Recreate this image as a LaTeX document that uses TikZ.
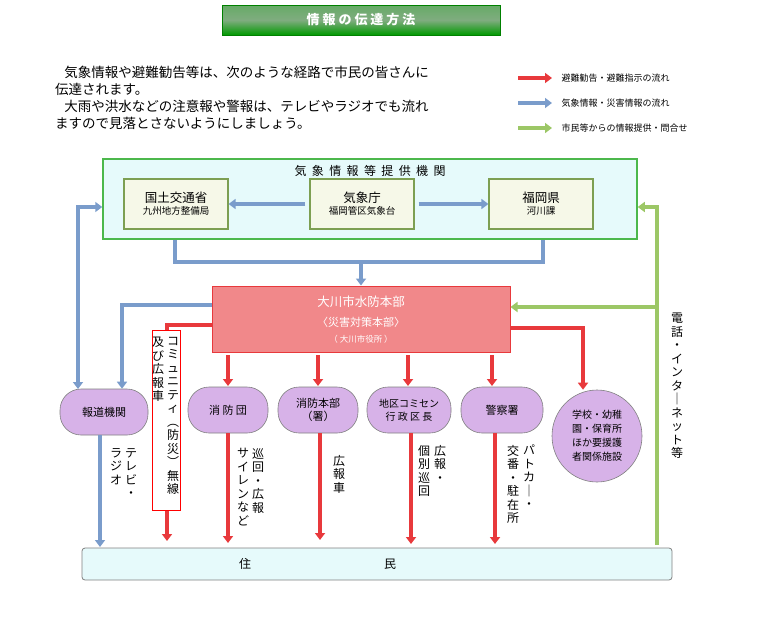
\documentclass[tikz,border=0pt]{standalone}
\usepackage{fontspec}
\setmainfont{Noto Sans CJK JP}
\usetikzlibrary{arrows.meta,shapes.geometric}
\definecolor{ared}{HTML}{E8393C}
\definecolor{ablue}{HTML}{7A9CCB}
\definecolor{agreen}{HTML}{9CC766}
\definecolor{pill}{HTML}{D7B2E8}
\definecolor{cyanbg}{HTML}{E6FAFB}
\definecolor{boxbg}{HTML}{F6F8E8}
\tikzset{
 arr/.style={line width=3.2pt,-{Triangle[length=7pt,width=10pt]}},
 red/.style={arr,draw=ared},
 blue/.style={arr,draw=ablue},
 green/.style={arr,draw=agreen},
 ln/.style={line width=3.2pt},
 inbox/.style={draw=agreen!80!black,line width=1.2pt,fill=boxbg,minimum width=104pt,minimum height=50pt,align=center,inner sep=1pt},
 pilln/.style={draw=gray,line width=0.6pt,fill=pill,rounded corners=21pt,minimum height=46pt,align=center,font=\fontsize{11}{13}\selectfont},
 vt/.style={align=center,font=\fontsize{12}{13.5}\selectfont,inner sep=0pt,anchor=north},
 leg/.style={font=\fontsize{9}{10}\selectfont,anchor=west},
}
\begin{document}
\begin{tikzpicture}[x=1pt,y=-1pt]
\useasboundingbox (0,0) rectangle (759,629);
% title
\node[draw=green!50!black,top color=green!45!black!60,bottom color=green!60!black,middle color=green!35!black!50,minimum width=278pt,minimum height=30pt,text=white,font=\bfseries\fontsize{13}{15}\selectfont] (title) at (361,20) {情\ 報\ の\ 伝\ 達\ 方\ 法};
% paragraph
\node[anchor=north west,align=left,font=\fontsize{13.5}{17}\selectfont,inner sep=0pt] (para) at (55,66) {\ \ \ 気象情報や避難勧告等は、次のような経路で市民の皆さんに\\伝達されます。\\\ \ \ 大雨や洪水などの注意報や警報は、テレビやラジオでも流れ\\ますので見落とさないようにしましょう。};
% legend
\coordinate (l1a) at (518,78); \coordinate (l1b) at (552,78);
\coordinate (l2a) at (518,103); \coordinate (l2b) at (552,103);
\coordinate (l3a) at (518,128); \coordinate (l3b) at (552,128);
\draw[red] (l1a) -- (l1b); \draw[blue] (l2a) -- (l2b); \draw[green] (l3a) -- (l3b);
\node[leg] (t1) at (558,78) {避難勧告・避難指示の流れ};
\node[leg] (t2) at (558,103) {気象情報・災害情報の流れ};
\node[leg] (t3) at (558,128) {市民等からの情報提供・問合せ};
% outer box
\node[draw=green!60!black!70,line width=1.5pt,fill=cyanbg,minimum width=534pt,minimum height=80pt] (outer) at (370,199) {};
\node[font=\fontsize{12}{14}\selectfont] (otitle) at (370,171) {気\ \ 象\ \ 情\ \ 報\ \ 等\ \ 提\ \ 供\ \ 機\ \ 関};
\node[inbox] (kokudo) at (176,204) {{\fontsize{12.5}{15}\selectfont 国土交通省}\\{\fontsize{9.5}{12}\selectfont 九州地方整備局}};
\node[inbox] (kisho) at (362,204) {{\fontsize{12.5}{15}\selectfont 気象庁}\\{\fontsize{9.5}{12}\selectfont 福岡管区気象台}};
\node[inbox] (fuku) at (541,204) {{\fontsize{12.5}{15}\selectfont 福岡県}\\{\fontsize{9.5}{12}\selectfont 河川課}};
\draw[blue] (kisho.west) ++(-4,0) coordinate (ka) -- (kokudo.east|-ka) ;
\draw[blue] (kisho.east) ++(4,0) coordinate (kb) -- (fuku.west|-kb);
% bracket
\coordinate (b1) at (175,240); \coordinate (b2) at (175,262); \coordinate (b3) at (543,262); \coordinate (b4) at (543,240); \coordinate (bm) at (361,262);
\draw[ln,draw=ablue] (b1) -- (b2) -- (b3) -- (b4);
% HQ
\node[draw=ared,line width=1pt,fill=ared!60,minimum width=298pt,minimum height=66pt,align=center,text=white] (hq) at (361,319) {};
\node[text=white,font=\fontsize{12.5}{15}\selectfont] (hq1) at (361,302) {大川市水防本部};
\node[text=white,font=\fontsize{11}{13}\selectfont] (hq2) at (361,322) {〈災害対策本部〉};
\node[text=white,font=\fontsize{8.5}{10}\selectfont] (hq3) at (361,339) {（ 大川市役所 ）};
\draw[blue] (bm) -- (hq.north);
% pills
\node[pilln,minimum width=88pt] (hodo) at (104,412) {報道機関};
\node[pilln,minimum width=80pt] (shobo) at (228,410) {消\ 防\ 団};
\node[pilln,minimum width=80pt] (honbu) at (318,410) {消防本部\\（署）};
\node[pilln,minimum width=84pt,font=\fontsize{10}{13}\selectfont] (chiku) at (409,410) {地区コミセン\\行\ 政\ 区\ 長};
\node[pilln,minimum width=82pt] (keisatsu) at (502,410) {警察署};
\node[draw=gray,line width=0.6pt,fill=pill,ellipse,minimum width=90pt,minimum height=92pt,align=center,font=\fontsize{10}{14}\selectfont] (gakko) at (597,436) {学校・幼稚\\園・保育所\\ほか要援護\\者関係施設};
% community box
\node[draw=red,line width=1pt,fill=white,minimum width=28pt,minimum height=180pt,inner sep=0pt] (comm) at (166,420) {};
\node[vt] (c1) at (173,337) {コ\\ミ\\ュ\\ニ\\テ\\ィ\\︵\\防\\災\\︶\\無\\線};
\node[vt] (c2) at (158,337) {及\\び\\広\\報\\車};
% blue from HQ to hodo
\coordinate (hb) at (122,305);
\draw[blue] (hq.west|-hb) -- (hb) -- (hb|-hodo.north);
% double arrow
\coordinate (d1) at (78,389); \coordinate (d2) at (78,207);
\draw[arr,draw=ablue,{Triangle[length=7pt,width=10pt]}-{Triangle[length=7pt,width=10pt]}] (d1) -- (d2) -- (outer.west|-d2);
% red left to comm
\coordinate (rc) at (167,325);
\draw[ln,draw=ared] (hq.west|-rc) -- (rc) -- (comm.north-|rc);
% red down arrows
\foreach \n/\x in {shobo/228,honbu/318,chiku/408,keisatsu/492}{
 \draw[red] (\x,355) -- (\x,386);}
\coordinate (rr) at (583,328);
\draw[red] (hq.east|-rr) -- (rr) -- (gakko.north-|rr);
% residents
\node[draw=gray,line width=0.8pt,fill=cyanbg,rounded corners=3pt,minimum width=590pt,minimum height=32pt] (jumin) at (377,564) {};
\node[font=\fontsize{12}{14}\selectfont] (j1) at (245,564) {住};
\node[font=\fontsize{12}{14}\selectfont] (j2) at (390,564) {民};
% down arrows to residents
\draw[blue] (hodo.south-|100,0) -- (100,547);
\draw[red] (comm.south-|167,0) -- (167,541);
\draw[red] (shobo.south-|228,0) -- (228,543);
\draw[red] (honbu.south-|320,0) -- (320,540);
\draw[red] (chiku.south-|411,0) -- (411,544);
\draw[red] (keisatsu.south-|495,0) -- (495,544);
% vertical labels
\node[vt] (v1) at (131,448) {テ\\レ\\ビ\\・};
\node[vt] (v2) at (116,448) {ラ\\ジ\\オ};
\node[vt] (v3) at (258,448) {巡\\回\\・\\広\\報};
\node[vt] (v4) at (243,448) {サ\\イ\\レ\\ン\\な\\ど};
\node[vt] (v5) at (339,455) {広\\報\\車};
\node[vt] (v6) at (440,445) {広\\報\\・};
\node[vt] (v7) at (424,445) {個\\別\\巡\\回};
\node[vt] (v8) at (529,445) {パ\\ト\\カ\\｜\\・};
\node[vt] (v9) at (513,445) {交\\番\\・\\駐\\在\\所};
\node[vt] (v10) at (677,313) {電\\話\\・\\イ\\ン\\タ\\｜\\ネ\\ッ\\ト\\等};
% green
\coordinate (g1) at (657,545); \coordinate (g2) at (657,207); \coordinate (g3) at (657,307);
\draw[green] (g1) -- (g2) -- (outer.east|-g2);
\draw[green] (g3) -- (hq.east|-g3);
\end{tikzpicture}
\end{document}
